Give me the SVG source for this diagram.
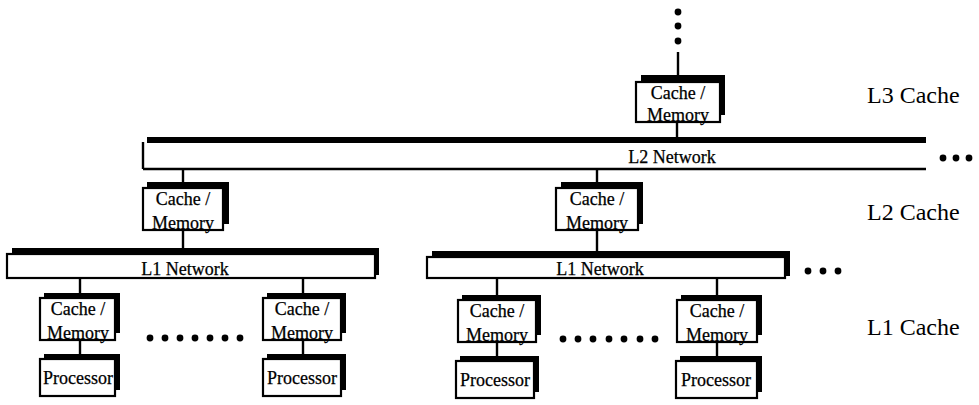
<svg xmlns="http://www.w3.org/2000/svg" width="979" height="405" viewBox="0 0 979 405">
<style>
.sh{fill:#000}
.bx{fill:#fff;stroke:#000;stroke-width:2.2}
.t{font-family:"Liberation Serif","Times New Roman",serif;font-size:18px;fill:#000;stroke:#000;stroke-width:0.25;text-anchor:middle}
.lb{font-family:"Liberation Serif","Times New Roman",serif;font-size:24px;fill:#000}
.ln{stroke:#000;stroke-width:2.4;fill:none}
.dot{fill:#000}
</style>
<rect width="979" height="405" fill="#fff"/>
<g id="connectors">
<line class="ln" x1="678" y1="52" x2="678" y2="76"/>
<line class="ln" x1="677" y1="122" x2="677" y2="138"/>
<line class="ln" x1="183" y1="169" x2="183" y2="183"/>
<line class="ln" x1="597" y1="169" x2="597" y2="183"/>
<line class="ln" x1="183" y1="230" x2="183" y2="249"/>
<line class="ln" x1="597" y1="230" x2="597" y2="253"/>
<line class="ln" x1="80" y1="278" x2="80" y2="294"/>
<line class="ln" x1="303" y1="278" x2="303" y2="294"/>
<line class="ln" x1="497" y1="278" x2="497" y2="296"/>
<line class="ln" x1="717" y1="278" x2="717" y2="296"/>
<line class="ln" x1="80" y1="340" x2="80" y2="355"/>
<line class="ln" x1="303" y1="340" x2="303" y2="355"/>
<line class="ln" x1="497" y1="342" x2="497" y2="357"/>
<line class="ln" x1="717" y1="342" x2="717" y2="357"/>
</g>
<g id="dots-top">
<circle class="dot" cx="678" cy="12" r="3.4"/>
<circle class="dot" cx="678" cy="26" r="3.4"/>
<circle class="dot" cx="678" cy="41" r="3.4"/>
</g>
<g id="l3-cache">
<rect class="sh" x="641" y="75" width="84" height="40"/>
<rect class="bx" x="636" y="82" width="84" height="40"/>
<text class="t" x="678" y="99">Cache /</text>
<text class="t" x="678" y="121">Memory</text>
</g>
<g id="l2-network">
<rect class="sh" x="147" y="137" width="779" height="7"/>
<rect x="143" y="143" width="783" height="26" fill="#fff"/>
<line class="ln" x1="143" y1="142" x2="143" y2="169"/>
<line class="ln" x1="143" y1="169" x2="926" y2="169"/>
<text class="t" x="672" y="163">L2 Network</text>
</g>
<g id="dots-l2">
<circle class="dot" cx="943" cy="158" r="3.4"/>
<circle class="dot" cx="956" cy="158" r="3.4"/>
<circle class="dot" cx="969" cy="158" r="3.4"/>
</g>
<g id="l2-cache-left">
<rect class="sh" x="147" y="182" width="82" height="42"/>
<rect class="bx" x="143" y="188" width="80" height="42"/>
<text class="t" x="183" y="205">Cache /</text>
<text class="t" x="183" y="229">Memory</text>
</g>
<g id="l2-cache-right">
<rect class="sh" x="561" y="182" width="82" height="42"/>
<rect class="bx" x="556" y="188" width="82" height="42"/>
<text class="t" x="597" y="205">Cache /</text>
<text class="t" x="597" y="229">Memory</text>
</g>
<g id="l1-network-left">
<rect class="sh" x="12" y="248" width="367" height="27"/>
<rect class="bx" x="7" y="254" width="368" height="24"/>
<text class="t" x="185" y="275">L1 Network</text>
</g>
<g id="l1-network-right">
<rect class="sh" x="432" y="251" width="358" height="25"/>
<rect class="bx" x="427" y="257" width="358" height="21"/>
<text class="t" x="600" y="275">L1 Network</text>
</g>
<g id="dots-l1">
<circle class="dot" cx="808" cy="271" r="3.4"/>
<circle class="dot" cx="823" cy="271" r="3.4"/>
<circle class="dot" cx="838" cy="271" r="3.4"/>
</g>
<g id="l1-cache-a">
<rect class="sh" x="44" y="293" width="76" height="40"/>
<rect class="bx" x="40" y="298" width="75" height="42"/>
<text class="t" x="78" y="315">Cache /</text>
<text class="t" x="78" y="339">Memory</text>
</g>
<g id="l1-cache-b">
<rect class="sh" x="267" y="293" width="79" height="40"/>
<rect class="bx" x="263" y="298" width="78" height="42"/>
<text class="t" x="302" y="315">Cache /</text>
<text class="t" x="302" y="339">Memory</text>
</g>
<g id="l1-cache-c">
<rect class="sh" x="462" y="295" width="79" height="40"/>
<rect class="bx" x="458" y="300" width="78" height="42"/>
<text class="t" x="497" y="317">Cache /</text>
<text class="t" x="497" y="341">Memory</text>
</g>
<g id="l1-cache-d">
<rect class="sh" x="681" y="295" width="81" height="40"/>
<rect class="bx" x="677" y="300" width="80" height="42"/>
<text class="t" x="717" y="317">Cache /</text>
<text class="t" x="717" y="341">Memory</text>
</g>
<g id="dots-left">
<circle class="dot" cx="150" cy="338" r="3.4"/>
<circle class="dot" cx="165" cy="338" r="3.4"/>
<circle class="dot" cx="180" cy="338" r="3.4"/>
<circle class="dot" cx="195" cy="338" r="3.4"/>
<circle class="dot" cx="210" cy="338" r="3.4"/>
<circle class="dot" cx="225" cy="338" r="3.4"/>
<circle class="dot" cx="240" cy="338" r="3.4"/>
</g>
<g id="dots-right">
<circle class="dot" cx="563" cy="339" r="3.4"/>
<circle class="dot" cx="578" cy="339" r="3.4"/>
<circle class="dot" cx="593" cy="339" r="3.4"/>
<circle class="dot" cx="609" cy="339" r="3.4"/>
<circle class="dot" cx="624" cy="339" r="3.4"/>
<circle class="dot" cx="640" cy="339" r="3.4"/>
<circle class="dot" cx="655" cy="339" r="3.4"/>
</g>
<g id="proc-a">
<rect class="sh" x="44" y="354" width="76" height="36"/>
<rect class="bx" x="40" y="359" width="75" height="37"/>
<text class="t" x="78" y="384">Processor</text>
</g>
<g id="proc-b">
<rect class="sh" x="267" y="354" width="79" height="36"/>
<rect class="bx" x="263" y="359" width="78" height="37"/>
<text class="t" x="302" y="384">Processor</text>
</g>
<g id="proc-c">
<rect class="sh" x="460" y="356" width="79" height="36"/>
<rect class="bx" x="456" y="361" width="78" height="37"/>
<text class="t" x="495" y="386">Processor</text>
</g>
<g id="proc-d">
<rect class="sh" x="680" y="356" width="82" height="36"/>
<rect class="bx" x="676" y="361" width="81" height="37"/>
<text class="t" x="716" y="386">Processor</text>
</g>
<g id="labels">
<text class="lb" x="867" y="103">L3 Cache</text>
<text class="lb" x="867" y="220">L2 Cache</text>
<text class="lb" x="867" y="335">L1 Cache</text>
</g>
</svg>
